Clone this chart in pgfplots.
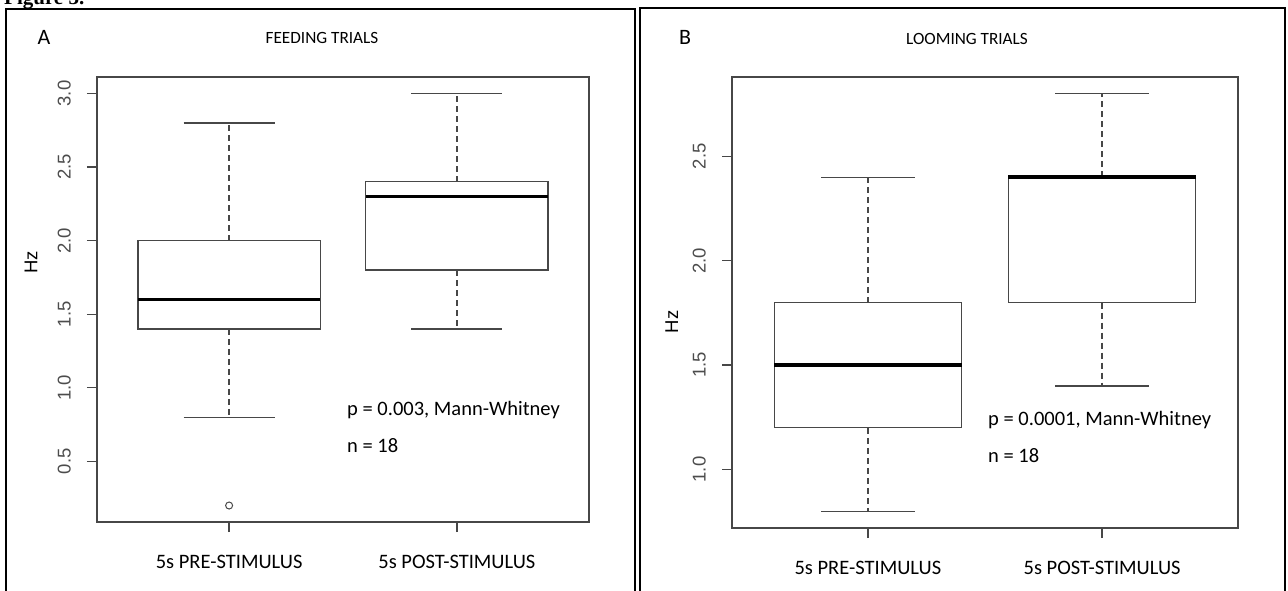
\documentclass[border=0pt]{standalone}
\usepackage{pgfplots}
\pgfplotsset{compat=1.18}
\usepgfplotslibrary{statistics}
\usepackage{fontspec}
\setmainfont{Carlito}
\newfontfamily\arial{Liberation Sans}
\newfontfamily\serifbf{Liberation Serif}
\definecolor{axgray}{gray}{0.28}

\pgfplotsset{
  Raxis/.style={
    scale only axis, anchor=south west,
    xmin=0.42, xmax=2.58,
    axis line style={draw=axgray, line width=1.3pt},
    tick style={draw=axgray, line width=1.3pt},
    major tick length=10pt,
    tick align=outside,
    xtick pos=left, ytick pos=left,
    xtick={1,2},
    xticklabels={5s PRE-STIMULUS, 5s POST-STIMULUS},
    xticklabel style={font=\fontsize{20.5}{24}\selectfont, anchor=base, inner sep=0pt},
    xticklabel shift=36pt,
    yticklabel style={font=\arial\fontsize{18.5}{22}\selectfont, rotate=90, anchor=south, inner sep=0pt, text=black!70},
    yticklabel shift=16pt,
    /pgf/number format/fixed,
    /pgf/number format/fixed zerofill,
    /pgf/number format/precision=1,
    /pgf/number format/assume math mode=true,
    ylabel={Hz},
  },
  Rbox/.style={
    draw=axgray, line width=1.3pt,
    mark=o, mark size=3.5pt, mark options={solid, draw=axgray, line width=1pt},
    boxplot/draw direction=y,
    boxplot/box extend=0.8,
    boxplot/whisker extend=0.4,
    boxplot/every box/.style={draw=axgray, line width=1.3pt},
    boxplot/every median/.style={draw=black, line width=3.6pt},
    boxplot/every whisker/.style={draw=axgray, line width=1.3pt},
    boxplot/draw/lower whisker/.code={
      \draw[/pgfplots/boxplot/every whisker/.try, dash pattern=on 6pt off 4pt]
        (boxplot cs:\pgfplotsboxplotvalue{lower quartile}) -- (boxplot cs:\pgfplotsboxplotvalue{lower whisker});
      \draw[/pgfplots/boxplot/every whisker/.try]
        (boxplot whisker cs:\pgfplotsboxplotvalue{lower whisker},0) -- (boxplot whisker cs:\pgfplotsboxplotvalue{lower whisker},1);
    },
    boxplot/draw/upper whisker/.code={
      \draw[/pgfplots/boxplot/every whisker/.try, dash pattern=on 6pt off 4pt]
        (boxplot cs:\pgfplotsboxplotvalue{upper quartile}) -- (boxplot cs:\pgfplotsboxplotvalue{upper whisker});
      \draw[/pgfplots/boxplot/every whisker/.try]
        (boxplot whisker cs:\pgfplotsboxplotvalue{upper whisker},0) -- (boxplot whisker cs:\pgfplotsboxplotvalue{upper whisker},1);
    },
  },
}

\begin{document}
\begin{tikzpicture}
\useasboundingbox (0,0) rectangle (1288pt,590pt);
% figure caption (cut off at top)
\node[anchor=base west, inner sep=0pt, font=\serifbf\bfseries\fontsize{21}{24}\selectfont] at (4pt,585pt) {Figure 3.};
% panel frames
\draw[line width=1.5pt] (6pt,-5pt) rectangle (635pt,581pt);
\draw[line width=1.5pt] (640pt,-5pt) rectangle (1285pt,582pt);
% panel letters and titles
\node[anchor=base, inner sep=0pt, font=\fontsize{22}{26}\selectfont] at (44pt,545pt) {A};
\node[anchor=base, inner sep=0pt, font=\fontsize{22}{26}\selectfont] at (685pt,545pt) {B};
\node[anchor=base, inner sep=0pt, font=\fontsize{17.2}{20}\selectfont] at (322pt,546pt) {FEEDING TRIALS};
\node[anchor=base, inner sep=0pt, font=\fontsize{17.2}{20}\selectfont] at (967pt,545pt) {LOOMING TRIALS};

% Panel A
\begin{axis}[Raxis,
  at={(97pt,68pt)}, width=492pt, height=445pt,
  ymin=0.088, ymax=3.112,
  ytick={0.5,1.0,1.5,2.0,2.5,3.0},
  every axis y label/.style={at={(axis description cs:-0.134,0.584)}, rotate=90, anchor=center, font=\arial\fontsize{18.5}{22}\selectfont},
]
\addplot[Rbox, boxplot prepared={draw position=1, lower whisker=0.8, lower quartile=1.4, median=1.6, upper quartile=2.0, upper whisker=2.8}]
  coordinates {(1,0.2)};
\addplot[Rbox, boxplot prepared={draw position=2, lower whisker=1.4, lower quartile=1.8, median=2.3, upper quartile=2.4, upper whisker=3.0}]
  coordinates {};
\end{axis}

% Panel B
\begin{axis}[Raxis,
  at={(732pt,62pt)}, width=506pt, height=451pt,
  ymin=0.72, ymax=2.88,
  ytick={1.0,1.5,2.0,2.5},
  every axis y label/.style={at={(axis description cs:-0.119,0.457)}, rotate=90, anchor=center, font=\arial\fontsize{18.5}{22}\selectfont},
]
\addplot[Rbox, boxplot prepared={draw position=1, lower whisker=0.8, lower quartile=1.2, median=1.5, upper quartile=1.8, upper whisker=2.4}]
  coordinates {};
\addplot[Rbox, boxplot prepared={draw position=2, lower whisker=1.4, lower quartile=1.8, median=2.4, upper quartile=2.4, upper whisker=2.8}]
  coordinates {};
\end{axis}

% annotations
\node[anchor=base west, inner sep=0pt, font=\fontsize{20.5}{24}\selectfont] at (347pt,175pt) {p = 0.003, Mann-Whitney};
\node[anchor=base west, inner sep=0pt, font=\fontsize{20.5}{24}\selectfont] at (347pt,138pt) {n = 18};
\node[anchor=base west, inner sep=0pt, font=\fontsize{20.5}{24}\selectfont] at (988pt,165pt) {p = 0.0001, Mann-Whitney};
\node[anchor=base west, inner sep=0pt, font=\fontsize{20.5}{24}\selectfont] at (988pt,128pt) {n = 18};
\end{tikzpicture}
\end{document}
